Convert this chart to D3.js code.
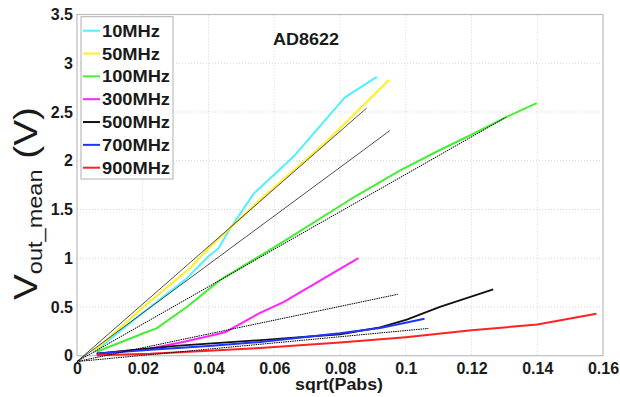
<!DOCTYPE html>
<html><head><meta charset="utf-8">
<script src="https://cdn.jsdelivr.net/npm/d3@7"></script>
<style>body{margin:0;background:#fff}svg{display:block}text{font-family:"Liberation Sans",Arial,sans-serif}</style>
</head><body>
<svg id="c" width="620" height="397"></svg>
<script>
// ---- data ----
const seriesNames = ["10MHz","50MHz","100MHz","300MHz","500MHz","700MHz","900MHz"];
const seriesColors = ["#4ef0ff","#ffee22","#44ee33","#ff22ff","#111111","#2233ff","#ff2222"];
const s10MHz  = [[0.005,0.03],[0.02,0.44],[0.033,0.78],[0.04,1.02],[0.043,1.10],[0.0465,1.30],[0.0537,1.66],[0.0658,2.04],[0.0815,2.65],[0.0912,2.86]];
const s50MHz  = [[0.005,0.04],[0.0202,0.50],[0.0344,0.90],[0.04,1.10],[0.0557,1.60],[0.076,2.20],[0.095,2.83]];
const s100MHz = [[0.006,0.04],[0.0202,0.23],[0.0242,0.28],[0.0334,0.50],[0.0435,0.775],[0.0618,1.15],[0.083,1.60],[0.0983,1.90],[0.1104,2.11],[0.1226,2.31],[0.1307,2.45],[0.1398,2.59]];
const s300MHz = [[0.006,0.02],[0.0222,0.074],[0.0323,0.14],[0.0425,0.22],[0.045,0.24],[0.0557,0.44],[0.0628,0.55],[0.0856,1.0]];
const s500MHz = [[0.006,0.02],[0.03,0.10],[0.06,0.17],[0.08,0.22],[0.0922,0.29],[0.1003,0.37],[0.1104,0.50],[0.1266,0.68]];
const s700MHz = [[0.006,0.02],[0.0222,0.06],[0.04,0.10],[0.0557,0.14],[0.08,0.23],[0.0922,0.285],[0.1003,0.34],[0.1057,0.38]];
const s900MHz = [[0.006,0.005],[0.0222,0.02],[0.04,0.05],[0.0557,0.08],[0.08,0.135],[0.1,0.19],[0.12,0.26],[0.14,0.32],[0.158,0.43]];
const allSeries = [s10MHz,s50MHz,s100MHz,s300MHz,s500MHz,s700MHz,s900MHz];
// linear fit lines: [start, end]
const fitLines = [
  [[0,-0.06],[0.0881,2.54]],
  [[0,-0.06],[0.0952,2.31]],
  [[0,-0.06],[0.1307,2.45]],
  [[0,-0.06],[0.0976,0.63]],
  [[0,-0.06],[0.1069,0.28]]
];
const fitDotted = [false,false,true,true,true];
const xTicks = [0,0.02,0.04,0.06,0.08,0.1,0.12,0.14,0.16];
const yTicks = [0,0.5,1,1.5,2,2.5,3,3.5];
const xTickLabels = ["0","0.02","0.04","0.06","0.08","0.1","0.12","0.14","0.16"];
const yTickLabels = ["0","0.5","1","1.5","2","2.5","3","3.5"];

// ---- layout ----
const svg = d3.select("#c");
const L = 77, R = 603, T = 14.5, B = 355.7;
const x = d3.scaleLinear().domain([0,0.16]).range([L,R]);
const y = d3.scaleLinear().domain([0,3.5]).range([B,T]);

// grid
const g = svg.append("g");
g.selectAll(".gx").data(xTicks.slice(1,-1)).join("line")
  .attr("x1",d=>x(d)).attr("x2",d=>x(d)).attr("y1",T).attr("y2",B)
  .attr("stroke","#d4d4d4").attr("stroke-width",1).attr("stroke-dasharray","1,2");
g.selectAll(".gy").data(yTicks.slice(1,-1)).join("line")
  .attr("x1",L).attr("x2",R).attr("y1",d=>y(d)).attr("y2",d=>y(d))
  .attr("stroke","#d4d4d4").attr("stroke-width",1).attr("stroke-dasharray","1,2");

// axes via d3 axis
const xAxis = svg.append("g").attr("transform",`translate(0,${B})`)
  .call(d3.axisBottom(x).tickValues(xTicks).tickFormat((d,i)=>xTickLabels[i]).tickSize(0).tickPadding(7));
const yAxis = svg.append("g").attr("transform",`translate(${L},0)`)
  .call(d3.axisLeft(y).tickValues(yTicks).tickFormat((d,i)=>yTickLabels[i]).tickSize(0).tickPadding(4));
[xAxis,yAxis].forEach(a=>{
  a.select(".domain").remove();
  a.selectAll("text").attr("font-size",16).attr("font-weight","bold").attr("fill","#1a1a1a")
    .style("font-family","'Liberation Sans',Arial,sans-serif");
});
// box
svg.append("rect").attr("x",L).attr("y",T).attr("width",R-L).attr("height",B-T)
  .attr("fill","none").attr("stroke","#bdbdbd").attr("stroke-width",1.2);

// series
const line = d3.line().x(d=>x(d[0])).y(d=>y(d[1]));
allSeries.forEach((s,i)=>{
  svg.append("path").attr("d",line(s)).attr("fill","none")
    .attr("stroke",seriesColors[i]).attr("stroke-width",i===4?1.8:2).attr("stroke-linejoin","round");
});
// fit lines
fitLines.forEach((f,i)=>{
  svg.append("path").attr("d",line(f)).attr("fill","none")
    .attr("stroke",fitDotted[i]?"#000":"#222").attr("stroke-width",fitDotted[i]?1:0.8)
    .attr("stroke-dasharray",fitDotted[i]?"1.5,0.8":null);
});

// annotation
svg.append("text").attr("x",273).attr("y",45).attr("font-size",17).attr("font-weight","bold")
  .attr("fill","#1a1a1a").attr("textLength",66).attr("lengthAdjust","spacingAndGlyphs").text("AD8622");

// x label
svg.append("text").attr("x",339).attr("y",390).attr("text-anchor","middle").attr("font-size",16)
  .attr("font-weight","bold").attr("fill","#1a1a1a").attr("textLength",88).attr("lengthAdjust","spacingAndGlyphs").text("sqrt(Pabs)");

// y label
const yl = svg.append("text").attr("transform","translate(37,300) rotate(-90)").attr("fill","#1a1a1a")
  .attr("textLength",193).attr("lengthAdjust","spacingAndGlyphs");
yl.append("tspan").attr("font-size",33).text("V");
yl.append("tspan").attr("font-size",20).attr("dy",5).text("out_mean");
yl.append("tspan").attr("font-size",33).attr("dy",-5).text(" (V)");

// legend
const lg = svg.append("g");
lg.append("rect").attr("x",81).attr("y",16.7).attr("width",92).attr("height",162.3)
  .attr("fill","#fff").attr("stroke","#b0b0b0").attr("stroke-width",1);
const rowY = d3.scaleLinear().domain([0,6]).range([30.7,167.7]);
const legendWidths = [58,58,68,68,68,68,68];
seriesNames.forEach((n,i)=>{
  lg.append("line").attr("x1",83).attr("x2",100).attr("y1",rowY(i)).attr("y2",rowY(i))
    .attr("stroke",seriesColors[i]).attr("stroke-width",2);
  lg.append("text").attr("x",102).attr("y",rowY(i)+6).attr("font-size",16).attr("font-weight","bold")
    .attr("fill","#1a1a1a").attr("textLength",legendWidths[i]).attr("lengthAdjust","spacingAndGlyphs").text(n);
});
</script>
</body></html>
